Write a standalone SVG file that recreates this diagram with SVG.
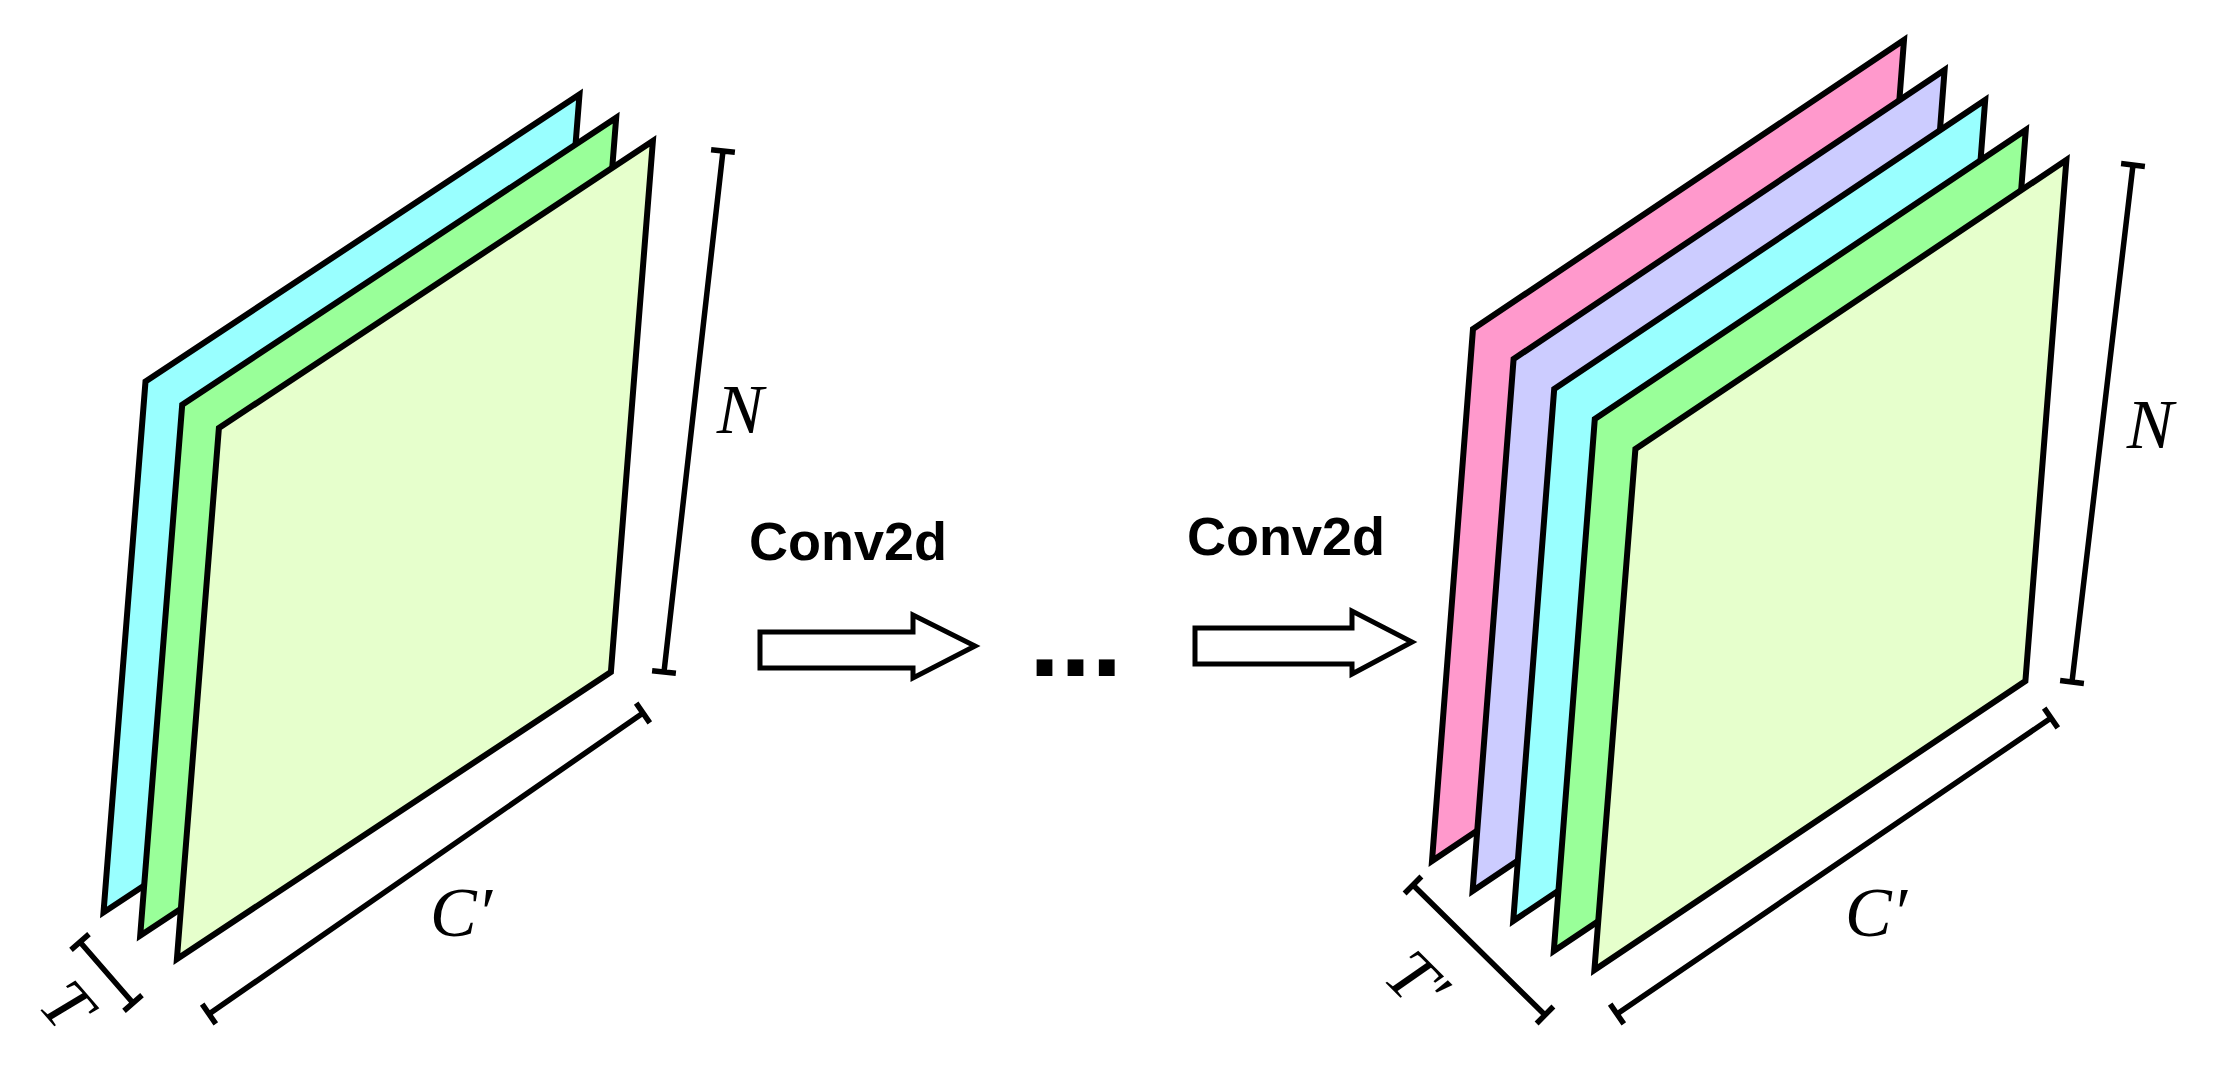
<svg xmlns="http://www.w3.org/2000/svg" width="2215" height="1080" viewBox="0 0 2215 1080">
<style>
.sheet{stroke:#000;stroke-width:6;stroke-linejoin:miter}
.cyan{fill:#99FFFF}.green{fill:#99FF99}.light{fill:#E6FFCC}.lav{fill:#CCCCFF}.pink{fill:#FF99CC}
.dim{fill:none;stroke:#000;stroke-width:5.5;stroke-linecap:butt}
.math{font-family:"Liberation Serif","DejaVu Serif",serif;font-style:italic;font-size:70px;fill:#000}
.lbl{font-family:"Liberation Sans",Arial,sans-serif;font-weight:bold;font-size:54px;fill:#000}
.arrow{fill:#fff;stroke:#000;stroke-width:5;stroke-linejoin:miter}
</style>
<rect width="2215" height="1080" fill="#fff"/>
<g id="left-stack">
<polygon class="sheet cyan" points="145.5,381.4 579.5,94.4 537.5,625.4 103.5,912.4"/>
<polygon class="sheet green" points="182.2,404.7 616.2,117.7 574.2,648.7 140.2,935.7"/>
<polygon class="sheet light" points="218.9,428 652.9,141 610.9,672 176.9,959"/>
</g>
<g id="right-stack">
<polygon class="sheet pink" points="1473,329 1904,40 1863,572 1432,861"/>
<polygon class="sheet lav" points="1513.6,359 1944.6,70 1903.6,602 1472.6,891"/>
<polygon class="sheet cyan" points="1554.2,389 1985.2,100 1944.2,632 1513.2,921"/>
<polygon class="sheet green" points="1594.8,419 2025.8,130 1984.8,662 1553.8,951"/>
<polygon class="sheet light" points="1635.4,449 2066.4,160 2025.4,681 1594.4,970"/>
</g>
<g id="dimensions">
<path class="dim" d="M723,151 L664,672 M711.1,149.7 L734.9,152.3 M652.1,670.7 L675.9,673.3"/>
<path class="dim" d="M209,1014 L643,713 M202.2,1004.1 L215.8,1023.9 M636.2,703.1 L649.8,722.9"/>
<path class="dim" d="M80,942 L133,1003 M71,949.8 L89,934.2 M124,1010.8 L142,995.2"/>
<path class="dim" d="M2133,165 L2072,682 M2121.1,163.6 L2144.9,166.4 M2060.1,680.6 L2083.9,683.4"/>
<path class="dim" d="M1617,1014 L2051,718 M1610.2,1004.1 L1623.8,1023.9 M2044.2,708.1 L2057.8,727.9"/>
<path class="dim" d="M1413,885 L1545,1015 M1404.6,893.5 L1421.4,876.5 M1536.6,1023.5 L1553.4,1006.5"/>
</g>
<g id="labels">
<text class="math" x="740" y="433" text-anchor="middle">N</text>
<text class="math" x="2150" y="448" text-anchor="middle">N</text>
<text class="math" x="430" y="936">C′</text>
<text class="math" x="1845" y="936">C′</text>
<text class="math" transform="translate(66,1006) rotate(49)" x="0" y="22" text-anchor="middle">T</text>
<text class="math" transform="translate(1416,982) rotate(45)" x="0" y="22" text-anchor="middle">T′</text>
</g>
<g id="conv-left">
<text class="lbl" x="848" y="560" text-anchor="middle">Conv2d</text>
</g>
<g id="conv-right">
<text class="lbl" x="1286" y="555" text-anchor="middle">Conv2d</text>
</g>
<g id="connectors">
<polygon class="arrow" points="760,632 913,632 913,615 975,646 913,678 913,668 760,668"/>
<polygon class="arrow" points="1195,628 1352,628 1352,611 1412,642 1352,674 1352,664 1195,664"/>
</g>
<g id="ellipsis">
<text class="lbl" x="1029" y="676" style="font-size:112px">...</text>
</g>
</svg>
